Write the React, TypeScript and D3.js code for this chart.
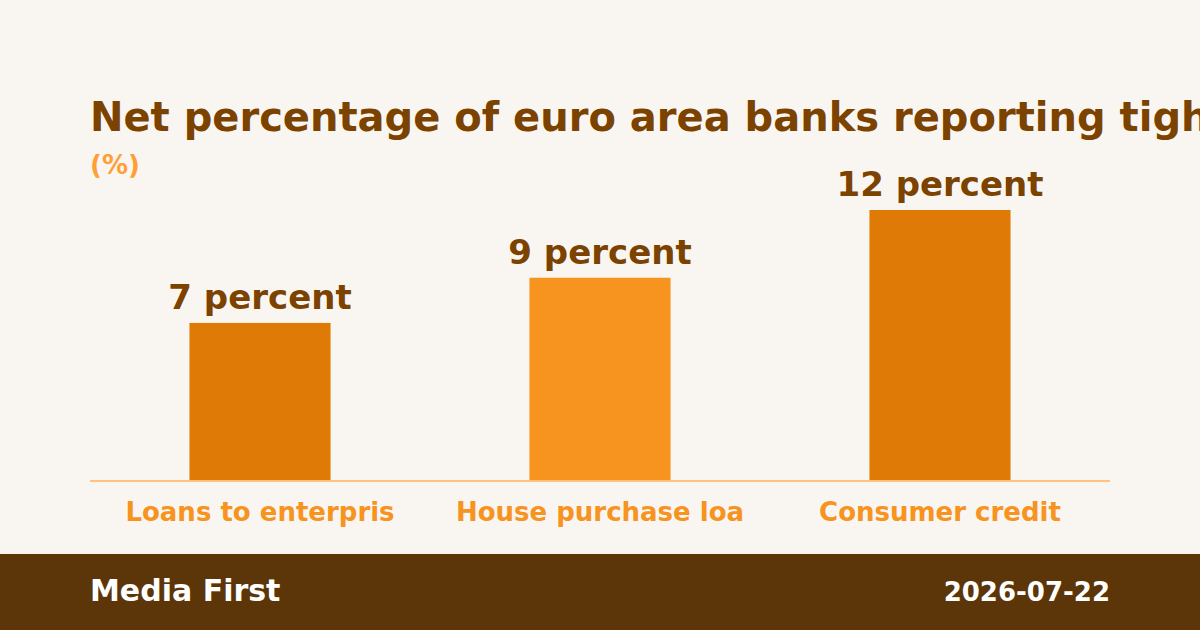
import React from "react";
import * as d3 from "d3";

const categories = ["Loans to enterpris", "House purchase loa", "Consumer credit"];
const values = [7, 9, 12];
const valueLabels = ["7 percent", "9 percent", "12 percent"];
const barColors = ["#e07a06", "#f7931f", "#e07a06"];

const W = 1200;
const H = 630;
const FONT = "'DejaVu Sans', sans-serif";

export default function App() {
  const x = d3
    .scaleBand<string>()
    .domain(categories)
    .range([90, 1110])
    .paddingInner(0.585)
    .paddingOuter(0.2925);
  const y = d3.scaleLinear().domain([0, 12]).range([481, 210]);

  return (
    <svg
      width={W}
      height={H}
      viewBox={`0 0 ${W} ${H}`}
      style={{ position: "absolute", left: 0, top: 0, display: "block" }}
      fontFamily={FONT}
    >
      <rect x={0} y={0} width={W} height={H} fill="#f9f6f2" />
      <text x={90} y={131} fontSize={40} fontWeight="bold" fill="#7b4200">
        Net percentage of euro area banks reporting tightening credit standards
      </text>
      <text x={90} y={174} fontSize={26} fontWeight="bold" fill="#ff9f38">
        (%)
      </text>
      {categories.map((c, i) => (
        <g key={c}>
          <rect
            x={x(c)}
            y={y(values[i])}
            width={x.bandwidth()}
            height={y(0) - y(values[i])}
            fill={barColors[i]}
          />
          <text
            x={(x(c) as number) + x.bandwidth() / 2}
            y={y(values[i]) - 14}
            textAnchor="middle"
            fontSize={34}
            fontWeight="bold"
            fill="#7b4200"
          >
            {valueLabels[i]}
          </text>
          <text
            x={(x(c) as number) + x.bandwidth() / 2}
            y={521}
            textAnchor="middle"
            fontSize={26}
            fontWeight="bold"
            fill="#f7931f"
          >
            {c}
          </text>
        </g>
      ))}
      <line x1={90} x2={1110} y1={481} y2={481} stroke="#ffc27f" strokeWidth={2} />
      <rect x={0} y={554} width={W} height={76} fill="#5c3608" />
      <text x={90} y={601} fontSize={30} fontWeight="bold" fill="#ffffff">
        Media First
      </text>
      <text x={1110} y={601} textAnchor="end" fontSize={26} fontWeight="bold" fill="#ffffff">
        2026-07-22
      </text>
    </svg>
  );
}
